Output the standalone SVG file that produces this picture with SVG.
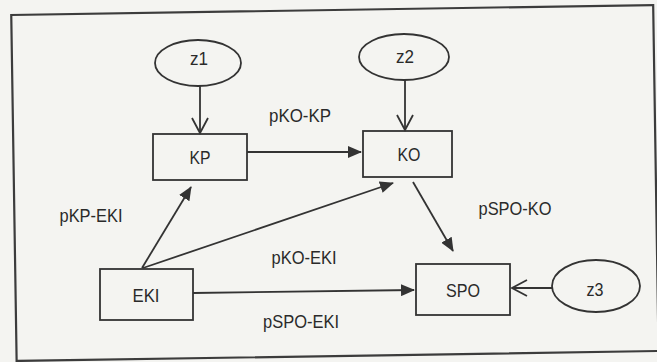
<svg xmlns="http://www.w3.org/2000/svg" width="657" height="362" viewBox="0 0 657 362">
  <style>
    .bg { fill: #f4f4f1; }
    .frame { fill: none; stroke: #3c3c3c; stroke-width: 2.2; }
    .node { fill: none; stroke: #333; stroke-width: 1.8; }
    .edge { fill: none; stroke: #333; stroke-width: 1.8; }
    .t { font-family: "Liberation Sans", Arial, sans-serif; font-size: 19px; fill: #2a2a2a; text-anchor: middle; }
  </style>
  <defs>
    <marker id="filled" markerUnits="userSpaceOnUse" viewBox="0 0 14 12" refX="13" refY="6" markerWidth="14" markerHeight="12" orient="auto">
      <path d="M0,0 L14,6 L0,12 z" fill="#333"/>
    </marker>
    <marker id="open" markerUnits="userSpaceOnUse" viewBox="-1 -1 18 18" refX="15" refY="8" markerWidth="18" markerHeight="18" orient="auto">
      <path d="M0,0 L15,8 L0,16" fill="none" stroke="#333" stroke-width="1.8"/>
    </marker>
  </defs>
  <rect class="bg" x="0" y="0" width="657" height="362"/>
  <rect id="frame" class="frame" x="13.9" y="10" width="642" height="346" transform="rotate(-0.89 334.9 183)"/>

  <g id="connectors">
    <line class="edge" x1="200" y1="86" x2="200" y2="133" marker-end="url(#open)"/>
    <line class="edge" x1="405" y1="80" x2="405" y2="130" marker-end="url(#open)"/>
    <line class="edge" x1="247" y1="152" x2="361" y2="152" marker-end="url(#filled)"/>
    <line class="edge" x1="142" y1="268" x2="191" y2="187" marker-end="url(#filled)"/>
    <line class="edge" x1="143" y1="268" x2="393" y2="183" marker-end="url(#filled)"/>
    <line class="edge" x1="413" y1="182" x2="453" y2="251" marker-end="url(#filled)"/>
    <line class="edge" x1="193" y1="293" x2="414" y2="290" marker-end="url(#filled)"/>
    <line class="edge" x1="552" y1="288" x2="512" y2="288" marker-end="url(#open)"/>
    <text class="t" x="300" y="122" textLength="62" lengthAdjust="spacingAndGlyphs">pKO-KP</text>
    <text class="t" x="91" y="222" textLength="63" lengthAdjust="spacingAndGlyphs">pKP-EKI</text>
    <text class="t" x="515" y="215" textLength="73" lengthAdjust="spacingAndGlyphs">pSPO-KO</text>
    <text class="t" x="304" y="264" textLength="65" lengthAdjust="spacingAndGlyphs">pKO-EKI</text>
    <text class="t" x="301" y="328" textLength="76" lengthAdjust="spacingAndGlyphs">pSPO-EKI</text>
  </g>

  <g id="z1">
    <ellipse class="node" cx="198" cy="63" rx="43" ry="23"/>
    <text class="t" x="199" y="65" textLength="18" lengthAdjust="spacingAndGlyphs">z1</text>
  </g>
  <g id="z2">
    <ellipse class="node" cx="404" cy="57" rx="45" ry="23"/>
    <text class="t" x="405" y="63" textLength="18" lengthAdjust="spacingAndGlyphs">z2</text>
  </g>
  <g id="z3">
    <ellipse class="node" cx="596" cy="286" rx="44" ry="26"/>
    <text class="t" x="595" y="296" textLength="17" lengthAdjust="spacingAndGlyphs">z3</text>
  </g>
  <g id="KP">
    <rect class="node" x="153" y="134" width="94" height="46"/>
    <text class="t" x="200" y="164" textLength="21" lengthAdjust="spacingAndGlyphs">KP</text>
  </g>
  <g id="KO">
    <rect class="node" x="363" y="131" width="89" height="46"/>
    <text class="t" x="409" y="161" textLength="23" lengthAdjust="spacingAndGlyphs">KO</text>
  </g>
  <g id="EKI">
    <rect class="node" x="100" y="269" width="93" height="51"/>
    <text class="t" x="146" y="302" textLength="27" lengthAdjust="spacingAndGlyphs">EKI</text>
  </g>
  <g id="SPO">
    <rect class="node" x="416" y="264" width="94" height="51"/>
    <text class="t" x="463" y="297" textLength="34" lengthAdjust="spacingAndGlyphs">SPO</text>
  </g>
</svg>
